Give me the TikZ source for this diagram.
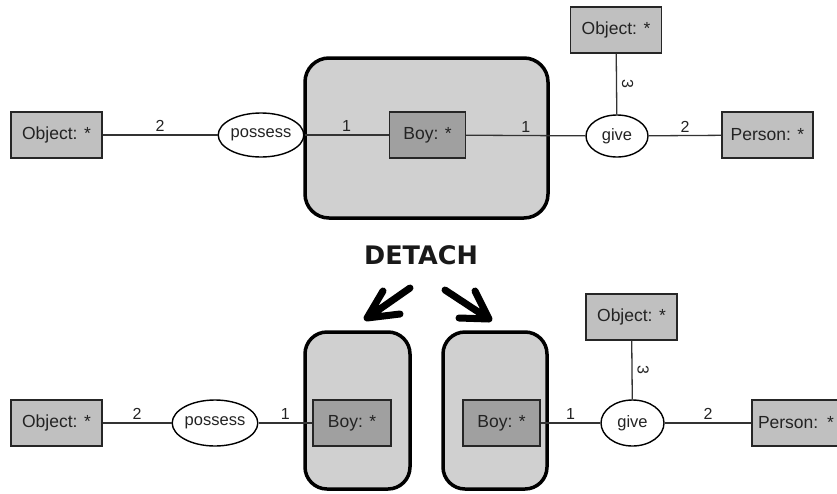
\documentclass[tikz,border=0pt]{standalone}
\usepackage{fontspec}
\setmainfont{Liberation Sans}
\newfontfamily\detachfont{DejaVu Sans}
\usetikzlibrary{shapes.geometric}
\definecolor{boxgray}{RGB}{192,192,192}
\definecolor{boygray}{RGB}{160,160,160}
\definecolor{contgray}{RGB}{208,208,208}
\definecolor{txtgray}{RGB}{35,35,35}
\begin{document}
\begin{tikzpicture}[x=1pt,y=-1pt,
  ent/.style={draw=black!85, line width=1.4pt, fill=boxgray, inner sep=0pt,
    minimum width=91pt, minimum height=46pt, text=txtgray,
    font=\fontsize{17.5}{20}\selectfont},
  boy/.style={ent, fill=boygray, minimum width=76pt},
  rel/.style={ellipse, draw=black, line width=1.4pt, fill=white, inner sep=0pt,
    minimum height=44pt, text=txtgray, font=\fontsize{16.5}{19}\selectfont},
  cont/.style={draw=black, line width=3.5pt, fill=contgray, rounded corners=24pt,
    inner sep=0pt},
  conn/.style={draw=black!80, line width=1.3pt},
  card/.style={midway, above, inner sep=2.5pt, text=txtgray,
    font=\fontsize{16}{18}\selectfont},
  cardv/.style={midway, anchor=center, xshift=11pt, rotate=-90, inner sep=0pt,
    text=txtgray, font=\fontsize{16}{18}\selectfont},
  bigarrow/.style={draw=black, line width=7pt, line cap=round, line join=round}
]
\useasboundingbox (0,0) rectangle (837,493);

% ---------- top row ----------
\node[cont, minimum width=243pt, minimum height=160pt] (contT) at (426.5,138) {};
\node[ent] (objT) at (56.5,135) {Object: *};
\node[rel, minimum width=78pt] (posT) at (261,135) {possess};
\node[boy] (boyT) at (427.5,135) {Boy: *};
\node[rel, minimum width=62pt, minimum height=42pt] (giveT) at (617,136) {give};
\node[ent] (objT2) at (616,30) {Object: *};
\node[ent] (perT) at (767.5,135) {Person: *};

\draw[conn] (objT) -- node[card]{2} (posT);
\draw[conn] (posT) -- node[card]{1} (boyT);
\draw[conn] (boyT) -- node[card]{1} (giveT);
\draw[conn] (giveT) -- node[card]{2} (perT);
\draw[conn] (objT2) -- node[cardv]{3} (giveT);

% ---------- DETACH ----------
\node[font=\detachfont\bfseries\fontsize{25.5}{28}\selectfont, text=black!90, inner sep=0pt] (detach) at (421,255) {DETACH};

\coordinate (aLs) at (410,288);
\coordinate (aLt) at (367,318);
\coordinate (aLu) at (383,291);
\coordinate (aLd) at (400,314);
\coordinate (aRs) at (445,290);
\coordinate (aRt) at (489,319);
\coordinate (aRu) at (475,291);
\coordinate (aRd) at (459,318);
\draw[bigarrow] (aLs) -- (aLt) (aLu) -- (aLt) -- (aLd);
\draw[bigarrow] (aRs) -- (aRt) (aRu) -- (aRt) -- (aRd);

% ---------- bottom row ----------
\node[cont, rounded corners=22pt, minimum width=105pt, minimum height=157pt] (contL) at (357.5,410.5) {};
\node[cont, rounded corners=22pt, minimum width=104pt, minimum height=157pt] (contR) at (495,410.5) {};
\node[ent] (objB) at (56.5,423) {Object: *};
\node[rel, minimum width=76pt, minimum height=46pt] (posB) at (215,423) {possess};
\node[boy, minimum width=78pt] (boyL) at (352,423) {Boy: *};
\node[boy, minimum width=77pt] (boyR) at (501.5,423) {Boy: *};
\node[rel, minimum width=63pt, minimum height=46pt] (giveB) at (632.5,423) {give};
\node[ent] (objB2) at (631.5,317) {Object: *};
\node[ent, minimum width=100pt, text width=88pt, align=left] (perB) at (802,423) {Person: *};

\draw[conn] (objB) -- node[card]{2} (posB);
\draw[conn] (posB) -- node[card]{1} (boyL);
\draw[conn] (boyR) -- node[card]{1} (giveB);
\draw[conn] (giveB) -- node[card]{2} (perB);
\draw[conn] (objB2) -- node[cardv]{3} (giveB);
\end{tikzpicture}
\end{document}
